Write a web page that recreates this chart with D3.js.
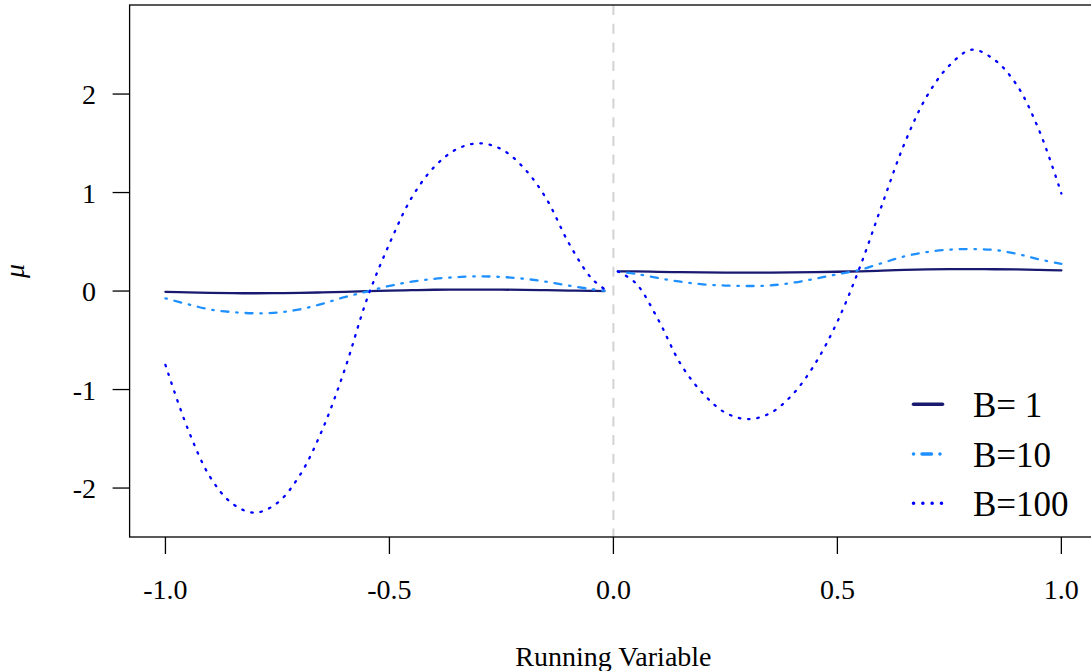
<!DOCTYPE html>
<html>
<head>
<meta charset="utf-8">
<script src="https://cdn.jsdelivr.net/npm/d3@7"></script>
<style>
  body { margin: 0; background: #fff; }
  svg text { font-family: "Liberation Serif", "DejaVu Serif", serif; fill: #000; }
</style>
</head>
<body>
<div id="chart"></div>
<script>
// values
const xLeft  = [-1.00, -0.95, -0.90, -0.85, -0.80, -0.75, -0.70, -0.65, -0.60, -0.55, -0.50,
                -0.45, -0.40, -0.35, -0.30, -0.25, -0.20, -0.15, -0.10, -0.05, -0.02]
const xRight = [0.01, 0.05, 0.10, 0.15, 0.20, 0.25, 0.30, 0.35, 0.40, 0.45, 0.50,
                0.55, 0.60, 0.65, 0.70, 0.75, 0.80, 0.85, 0.90, 0.95, 1.00]

const b1Left   = [-0.0075, -0.014, -0.019, -0.022, -0.0225, -0.021, -0.019, -0.014, -0.008, -0.001, 0.005,
                  0.009, 0.013, 0.014, 0.015, 0.014, 0.012, 0.009, 0.005, 0.0015, 0.0]
const b10Left  = [-0.074, -0.134, -0.187, -0.214, -0.226, -0.218, -0.186, -0.130, -0.062, -0.005, 0.052,
                  0.095, 0.124, 0.141, 0.149, 0.143, 0.125, 0.095, 0.055, 0.020, 0.003]
const b100Left = [-0.75, -1.40, -1.89, -2.16, -2.25, -2.15, -1.87, -1.41, -0.80, -0.08, 0.48,
                  0.95, 1.26, 1.44, 1.50, 1.44, 1.25, 0.94, 0.49, 0.135, 0.02]

const b1Right   = [0.200, 0.199, 0.195, 0.192, 0.189, 0.1875, 0.187, 0.1875, 0.189, 0.192, 0.196,
                   0.2005, 0.207, 0.214, 0.219, 0.222, 0.2225, 0.2215, 0.219, 0.2145, 0.209]
const b10Right  = [0.196, 0.175, 0.132, 0.095, 0.068, 0.056, 0.051, 0.057, 0.084, 0.125, 0.170,
                   0.214, 0.285, 0.352, 0.396, 0.420, 0.426, 0.417, 0.378, 0.322, 0.276]
const b100Right = [0.20, 0.08, -0.29, -0.74, -1.04, -1.235, -1.30, -1.24, -1.05, -0.74, -0.31,
                   0.24, 0.88, 1.50, 1.98, 2.29, 2.45, 2.35, 2.095, 1.635, 0.99]

const xTicks = [-1.0, -0.5, 0.0, 0.5, 1.0]
const yTicks = [-2, -1, 0, 1, 2]
const legendLabels = ['B= 1', 'B=10', 'B=100']

const width = 1091, height = 671
const plotLeft = 129.6, plotRight = 1097.2, plotTop = 5, plotBottom = 537

const svg = d3.select('#chart').append('svg')
    .attr('width', width)
    .attr('height', height)

const xScale = d3.scaleLinear().domain([-1.08, 1.08]).range([plotLeft, plotRight])
const yScale = d3.scaleLinear().domain([-2.497, 2.904]).range([plotBottom, plotTop])

// series styles: solid, dot-dash, dotted
const series = [
    {name: legendLabels[0], color: '#191970', dash: null,               legDash: null,               l: b1Left,   r: b1Right},
    {name: legendLabels[1], color: '#1E90FF', dash: '1.5,7.8,7,7.8',    legDash: '0.1,8.4,9.5,8.4',  l: b10Left,  r: b10Right},
    {name: legendLabels[2], color: '#0000FF', dash: '1.5,7.8',          legDash: '0.1,9.2',          l: b100Left, r: b100Right}
]

// cutoff line
svg.append('line')
    .attr('x1', xScale(0)).attr('x2', xScale(0))
    .attr('y1', plotTop).attr('y2', plotBottom)
    .attr('stroke', '#D3D3D3')
    .attr('stroke-width', 2)
    .attr('stroke-dasharray', '10,8.7')

const line = d3.line()
    .x(d => xScale(d[0]))
    .y(d => yScale(d[1]))
    .curve(d3.curveCatmullRom.alpha(0.5))

series.forEach(s => {
    [[xLeft, s.l], [xRight, s.r]].forEach(([xs, ys]) => {
        svg.append('path')
            .datum(xs.map((x, i) => [x, ys[i]]))
            .attr('d', line)
            .attr('fill', 'none')
            .attr('stroke', s.color)
            .attr('stroke-width', 2.3)
            .attr('stroke-linecap', 'round')
            .attr('stroke-dasharray', s.dash)
    })
})

// box (right edge falls outside the window)
svg.append('rect')
    .attr('x', plotLeft).attr('y', plotTop)
    .attr('width', plotRight - plotLeft).attr('height', plotBottom - plotTop)
    .attr('fill', 'none')
    .attr('stroke', '#000')
    .attr('stroke-width', 1.3)

// x axis
const xAxis = svg.append('g')
xAxis.selectAll('line')
    .data(xTicks)
    .enter().append('line')
    .attr('x1', d => xScale(d)).attr('x2', d => xScale(d))
    .attr('y1', plotBottom).attr('y2', plotBottom + 17)
    .attr('stroke', '#000').attr('stroke-width', 1.3)
xAxis.selectAll('text')
    .data(xTicks)
    .enter().append('text')
    .attr('x', d => xScale(d))
    .attr('y', 599)
    .attr('text-anchor', 'middle')
    .style('font-size', '28px')
    .text(d => d3.format('.1f')(d).replace('−', '-'))

// y axis
const yAxis = svg.append('g')
yAxis.selectAll('line')
    .data(yTicks)
    .enter().append('line')
    .attr('x1', plotLeft - 17).attr('x2', plotLeft)
    .attr('y1', d => yScale(d)).attr('y2', d => yScale(d))
    .attr('stroke', '#000').attr('stroke-width', 1.3)
yAxis.selectAll('text')
    .data(yTicks)
    .enter().append('text')
    .attr('x', 96)
    .attr('y', d => yScale(d) + 10)
    .attr('text-anchor', 'end')
    .style('font-size', '28px')
    .text(d => String(d))

// axis titles
svg.append('text')
    .attr('x', xScale(0))
    .attr('y', 666)
    .attr('text-anchor', 'middle')
    .style('font-size', '28px')
    .text('Running Variable')

svg.append('text')
    .attr('transform', `translate(24, ${(plotTop + plotBottom) / 2}) rotate(-90)`)
    .attr('text-anchor', 'middle')
    .style('font-size', '28px')
    .style('font-style', 'italic')
    .text('μ')

// legend
const legend = svg.append('g')
const legY = [404.3, 454, 503.3]
series.forEach((s, i) => {
    legend.append('line')
        .attr('x1', 913.5).attr('x2', 942.5)
        .attr('y1', legY[i]).attr('y2', legY[i])
        .attr('stroke', s.color)
        .attr('stroke-width', 3.5)
        .attr('stroke-linecap', 'round')
        .attr('stroke-dasharray', s.legDash)
    legend.append('text')
        .attr('x', 973)
        .attr('y', legY[i] + 12.5)
        .style('font-size', '35px')
        .text(s.name)
})
</script>
</body>
</html>
